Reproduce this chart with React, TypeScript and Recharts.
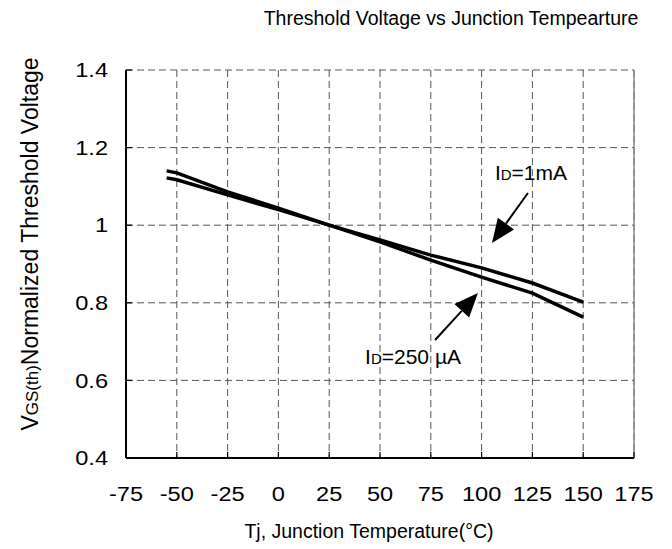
import React from 'react';
import { CartesianGrid, Label, Line, LineChart, ReferenceLine, XAxis, YAxis } from 'recharts';

const temps = [-55, -50, -25, 0, 25, 50, 75, 100, 125, 150];
const vth1mA = [1.122, 1.117, 1.078, 1.04, 1.0, 0.962, 0.923, 0.89, 0.851, 0.802];
const vth250uA = [1.14, 1.135, 1.086, 1.044, 1.0, 0.957, 0.91, 0.866, 0.825, 0.763];

const xTicks = [-75, -50, -25, 0, 25, 50, 75, 100, 125, 150, 175];
const yTicks = [0.4, 0.6, 0.8, 1, 1.2, 1.4];

// arrow tail -> head, in data units
const arrow1mA = [{ x: 122.8, y: 1.083 }, { x: 105.1, y: 0.954 }];
const arrow250uA = [{ x: 77.1, y: 0.704 }, { x: 98.2, y: 0.825 }];

const data = temps.map((t, i) => ({ t, a: vth1mA[i], b: vth250uA[i] }));

const FONT = '"Liberation Sans", Arial, sans-serif';
const TICK_FS = 20.5;
const STRETCH = 1.15;

function YTick({ x, y, payload }: any) {
  const axisX = x + 18;
  return (
    <g>
      {payload.value !== 0.4 && <line x1={axisX} x2={axisX + 6} y1={y} y2={y} stroke="#000" strokeWidth={1.2} />}
      <text
        transform={`translate(${x},${y}) scale(${STRETCH},1)`}
        dy="0.355em"
        textAnchor="end"
        fontSize={TICK_FS}
        fontFamily={FONT}
        fill="#000"
      >
        {payload.value}
      </text>
    </g>
  );
}

function XTick({ x, y, payload }: any) {
  const axisY = y - 28;
  return (
    <g>
      {payload.value !== -75 && <line x1={x} x2={x} y1={axisY} y2={axisY - 6} stroke="#000" strokeWidth={1.2} />}
      <text
        transform={`translate(${x},${y}) scale(${STRETCH},1)`}
        dy="0.71em"
        textAnchor="middle"
        fontSize={TICK_FS}
        fontFamily={FONT}
        fill="#000"
      >
        {payload.value}
      </text>
    </g>
  );
}

function makeArrow(label: React.ReactNode, dx: number, dy: number) {
  return (props: any) => {
    const { x1, y1, x2, y2 } = props;
    const ang = Math.atan2(y2 - y1, x2 - x1);
    const len = 24;
    const w = 10;
    const bx = x2 - len * Math.cos(ang);
    const by = y2 - len * Math.sin(ang);
    const px = -Math.sin(ang) * w;
    const py = Math.cos(ang) * w;
    return (
      <g>
        <line x1={x1} y1={y1} x2={bx} y2={by} stroke="#000" strokeWidth={2} />
        <polygon points={`${x2},${y2} ${bx + px},${by + py} ${bx - px},${by - py}`} fill="#000" />
        <text x={x1 + dx} y={y1 + dy} fontSize={21} fontFamily={FONT} fill="#000">
          {label}
        </text>
      </g>
    );
  };
}

const label1mA = (
  <>
    I<tspan fontSize={15}>D</tspan>=1mA
  </>
);
const label250 = (
  <>
    I<tspan fontSize={15}>D</tspan>=250 µA
  </>
);

export default function App() {
  return (
    <div style={{ position: 'absolute', left: 0, top: 0 }}>
      <LineChart width={672} height={549} data={data} margin={{ top: 70, right: 38, bottom: 0, left: 0 }}>
        <text x={451} y={25} textAnchor="middle" fontSize={19.5} fontFamily={FONT} fill="#000">
          Threshold Voltage vs Junction Tempearture
        </text>
        <CartesianGrid stroke="#555" strokeDasharray="7 4" />
        <XAxis
          dataKey="t"
          type="number"
          domain={[-75, 175]}
          ticks={xTicks}
          interval={0}
          height={91}
          tickSize={0}
          tickMargin={28}
          tick={<XTick />}
          axisLine={{ stroke: '#000', strokeWidth: 2 }}
          tickLine={false}
        >
          <Label
            content={({ viewBox }: any) => (
              <text x={viewBox.x + 243} y={viewBox.y + 80} textAnchor="middle" fontSize={19.5} fontFamily={FONT} fill="#000">
                Tj, Junction Temperature(°C)
              </text>
            )}
          />
        </XAxis>
        <YAxis
          type="number"
          domain={[0.4, 1.4]}
          ticks={yTicks}
          interval={0}
          width={126}
          tickSize={0}
          tickMargin={18}
          tick={<YTick />}
          axisLine={{ stroke: '#000', strokeWidth: 2 }}
          tickLine={false}
        >
          <Label
            content={({ viewBox }: any) => {
              const cx = viewBox.x + 38;
              const cy = viewBox.y + 174;
              return (
                <text
                  x={cx}
                  y={cy}
                  transform={`rotate(-90 ${cx} ${cy})`}
                  textAnchor="middle"
                  fontSize={23}
                  fontFamily={FONT}
                  fill="#000"
                >
                  V<tspan fontSize={17}>GS(th)</tspan>Normalized Threshold Voltage
                </text>
              );
            }}
          />
        </YAxis>
        <ReferenceLine x={175} stroke="#888" strokeWidth={1.5} />
        <Line dataKey="a" stroke="#000" strokeWidth={3.5} dot={false} isAnimationActive={false} type="linear" />
        <Line dataKey="b" stroke="#000" strokeWidth={3.5} dot={false} isAnimationActive={false} type="linear" />
        <ReferenceLine segment={arrow1mA} shape={makeArrow(label1mA, -33, -13)} />
        <ReferenceLine segment={arrow250uA} shape={makeArrow(label250, -70, 24)} />
      </LineChart>
    </div>
  );
}
